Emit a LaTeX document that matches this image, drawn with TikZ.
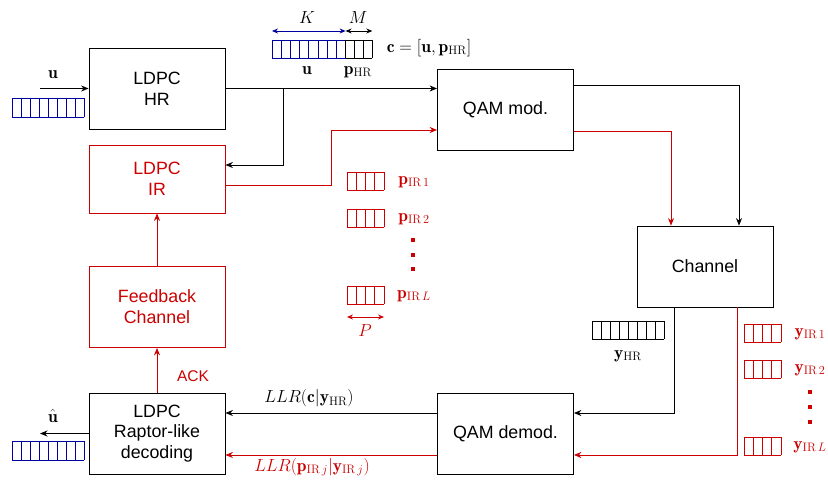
\RequirePackage{fix-cm}
\documentclass[tikz,border=0pt]{standalone}
\usepackage{fontspec}
\newfontfamily\boxfont{Liberation Sans}
\usetikzlibrary{arrows.meta}
\definecolor{myred}{RGB}{204,0,0}
\definecolor{myblue}{RGB}{0,0,160}
\newcommand{\regarr}[6]{%
  \draw[#6] (#1,#2) -- ++({#3*#4},0) (#1,{#2+#5}) -- ++({#3*#4},0);
  \foreach \k in {0,...,#3}{\draw[#6] ({#1+\k*#4},#2) -- ++(0,#5);}%
}
\newcommand{\dotsq}[3]{\fill[#3] ({#1-1.6},{#2-1.6}) rectangle ++(3.2,3.2);}
\begin{document}
\begin{tikzpicture}[x=1pt,y=-1pt,
  >={Stealth[length=7.5pt,width=6pt]},
  line width=0.8pt,
  blk/.style={draw, minimum width=136pt, minimum height=81pt, inner sep=2pt, align=center,
    font=\boxfont\fontsize{17.8}{20.8}\selectfont},
  rblk/.style={blk, draw=myred, text=myred},
  lab/.style={font=\fontsize{17.5}{20}\selectfont, inner sep=0pt},
  sm/.style={{Stealth[length=6pt,width=5pt]}-{Stealth[length=6pt,width=5pt]}},
  cellline/.style={line width=0.7pt}]
\useasboundingbox (0,0) rectangle (828,481);

% blocks
\node[blk] (hr) at (157,88.5) {LDPC\\HR};
\node[rblk, minimum height=68pt] (ir) at (157,179) {LDPC\\IR};
\node[rblk] (fb) at (157,307) {Feedback\\Channel};
\node[blk] (dec) at (157,433.5) {LDPC\\Raptor-like\\decoding};
\node[blk] (mod) at (505.5,110) {QAM mod.};
\node[blk] (ch) at (705,266.5) {Channel};
\node[blk] (dem) at (505.5,434) {QAM demod.};

% connectors
\coordinate (uin) at (40,88.5);
\draw[->] (uin) -- (hr.west);
\draw[->] (hr.east) -- (hr.east -| mod.west);
\coordinate (br) at (283,88.5);
\draw[->] (br) |- ([yshift=14pt]ir.east);
\draw[->,myred] ([yshift=-6pt]ir.east) -- ++(106,0) |- ([yshift=-20pt]mod.west);
\draw[->] ([yshift=25pt]mod.east) -| ([xshift=34pt]ch.north);
\draw[->,myred] ([yshift=-21pt]mod.east) -| ([xshift=-34pt]ch.north);
\draw[->] ([xshift=-31pt]ch.south) |- ([yshift=21pt]dem.east);
\draw[->,myred] ([xshift=32pt]ch.south) |- ([yshift=-21pt]dem.east);
\path ([yshift=21pt]dem.west) coordinate (d1) ([yshift=-21pt]dem.west) coordinate (d2);
\draw[->] (d1) -- (d1 -| dec.east);
\draw[->,myred] (d2) -- (d2 -| dec.east);
\coordinate (uout) at (40,433.5);
\draw[->] (dec.west) -- (uout);
\draw[->,myred] (dec.north) -- (fb.south);
\draw[->,myred] (fb.north) -- (ir.south);

% registers
\regarr{12}{98}{8}{9}{19}{myblue,cellline}
\regarr{12}{441}{8}{9}{19}{myblue,cellline}
\regarr{272}{40}{8}{9.2}{18}{myblue,cellline}
\regarr{345.6}{40}{3}{8.9}{18}{black,cellline}
\regarr{347}{172}{4}{9.25}{18}{myred,cellline}
\regarr{347}{209}{4}{9.25}{18}{myred,cellline}
\regarr{347}{286}{4}{9.25}{18}{myred,cellline}
\regarr{592}{321}{8}{9}{18}{black,cellline}
\regarr{744}{324}{4}{9.25}{18}{myred,cellline}
\regarr{744}{360}{4}{9.25}{18}{myred,cellline}
\regarr{744}{437}{4}{9.25}{18}{myred,cellline}

% dimension arrows
\coordinate (k0) at (272,31);
\coordinate (k1) at (345.6,31);
\coordinate (m1) at (372.3,31);
\draw[sm,myblue] (k0) -- (k1);
\draw[sm] (k1) -- (m1);
\coordinate (p0) at (347,317);
\coordinate (p1) at (384,317);
\draw[sm,myred] (p0) -- (p1);

% dots
\dotsq{413}{240}{myred}
\dotsq{413}{255}{myred}
\dotsq{413}{269}{myred}
\dotsq{810}{392}{myred}
\dotsq{810}{407}{myred}
\dotsq{810}{422}{myred}

% labels
\node[lab] (lu) at (53,75) {$\mathbf{u}$};
\node[lab] (luh) at (53,416) {$\hat{\mathbf{u}}$};
\node[lab] (lk) at (307,18) {$K$};
\node[lab] (lm) at (358,18) {$M$};
\node[lab] (lu2) at (307,71) {$\mathbf{u}$};
\node[lab] (lphr) at (358,72) {$\mathbf{p}_{\mathrm{HR}}$};
\node[lab] (lc) at (429,48) {$\mathbf{c}=[\mathbf{u},\mathbf{p}_{\mathrm{HR}}]$};
\node[lab,text=myred] (lp1) at (414,182) {$\mathbf{p}_{\mathrm{IR}\,1}$};
\node[lab,text=myred] (lp2) at (414,219) {$\mathbf{p}_{\mathrm{IR}\,2}$};
\node[lab,text=myred] (lpl) at (414,296) {$\mathbf{p}_{\mathrm{IR}\,L}$};
\node[lab,text=myred] (lP) at (365,331) {$P$};
\node[lab] (lyhr) at (628,356) {$\mathbf{y}_{\mathrm{HR}}$};
\node[lab,text=myred] (ly1) at (810,334) {$\mathbf{y}_{\mathrm{IR}\,1}$};
\node[lab,text=myred] (ly2) at (810,370) {$\mathbf{y}_{\mathrm{IR}\,2}$};
\node[lab,text=myred] (lyl) at (810,447) {$\mathbf{y}_{\mathrm{IR}\,L}$};
\node[font=\boxfont\fontsize{15.5}{18}\selectfont, text=myred, inner sep=0pt] (ack) at (193,376) {ACK};
\node[lab] (llr1) at (309,398) {$LLR(\mathbf{c}|\mathbf{y}_{\mathrm{HR}})$};
\node[lab,text=myred] (llr2) at (312,467) {$LLR(\mathbf{p}_{\mathrm{IR}\,j}|\mathbf{y}_{\mathrm{IR}\,j})$};
\end{tikzpicture}
\end{document}
